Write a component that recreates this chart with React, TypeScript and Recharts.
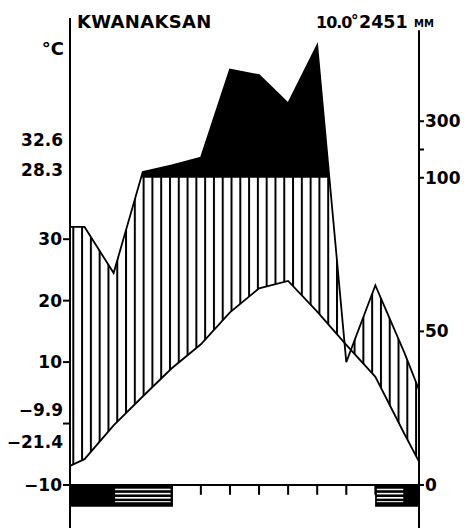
import { ComposedChart, Area, Line, XAxis, YAxis, ReferenceLine, ReferenceArea } from 'recharts'

// Walter–Lieth climate diagram, Kwanaksan
const months = ['Jan', 'Feb', 'Mar', 'Apr', 'May', 'Jun', 'Jul', 'Aug', 'Sep', 'Oct', 'Nov', 'Dec']
const tempC = [-5.8, -0.3, 4.4, 9.0, 12.9, 18.1, 22.0, 23.2, 18.2, 12.8, 7.6, -1.7]
const precipMm = [84, 69, 120, 144, 171, 483, 463, 363, 569, 40, 65, 43]
// values drawn at the left / right border of the diagram
const edgeTempC = [-6.9, -6.2]
const edgePrecipMm = [84, 31]

const tempTicks = [-10, 0, 10, 20, 30]
const precipTicks = [0, 50, 100, 200, 300]
const precipTickLabels = ['0', '50', '100', '', '300']

// frost band below the diagram (in months from Jan 1)
const frostBand = [[0, 3.54], [10.49, 12]]
const frostProbable = [[1.55, 3.46], [10.55, 11.46]]

const stationName = 'KWANAKSAN'
const meanTemp = '10.0'
const annualPrecip = '2451'
const sideStats = [
    { text: '32.6', y: 146 },
    { text: '28.3', y: 176 },
    { text: '−9.9', y: 416 },
    { text: '−21.4', y: 448 },
]

// 10 °C = 20 mm up to 100 mm, reduced scale above
const toScale = (mm: number) => (mm <= 100 ? mm / 2 - 10 : 40 + (mm - 100) * 0.046)

const rows = [
    { x: 0, t: edgeTempC[0], p: toScale(edgePrecipMm[0]) },
    ...months.map((m, i) => ({ x: i + 0.5, month: m, t: tempC[i], p: toScale(precipMm[i]) })),
    { x: 12, t: edgeTempC[1], p: toScale(edgePrecipMm[1]) },
]

const FONT = 'DejaVu Sans'
const tickStyle = { fill: '#000', fontSize: 17, fontFamily: FONT, fontWeight: 'bold' as const }

const fmtTemp = (v: number) => (v === 0 ? '' : v < 0 ? '−' + Math.abs(v) : String(v))

// half width of a month tick, in months (~1px)
const TICK_HALF = 0.035

export default function App() {
    return (
        <div style={{ position: 'absolute', left: 0, top: 0, width: 464, height: 529, background: '#fff' }}>
            <ComposedChart width={464} height={529} data={rows} margin={{ top: 18, right: 0, bottom: 1, left: 0 }}>
                <defs>
                    <pattern id="vhatch" patternUnits="userSpaceOnUse" x={72.3} y={0} width={8.79} height={10}>
                        <rect x={0} y={0} width={8.79} height={10} fill="#fff" />
                        <rect x={0} y={0} width={2} height={10} fill="#000" />
                    </pattern>
                    <pattern id="hhatch" patternUnits="userSpaceOnUse" x={0} y={488.6} width={10} height={4.2}>
                        <rect x={0} y={0} width={10} height={4.2} fill="#000" />
                        <rect x={0} y={0} width={10} height={1.6} fill="#fff" />
                    </pattern>
                </defs>
                <XAxis type="number" dataKey="x" domain={[0, 12]} hide />
                <YAxis
                    yAxisId="t"
                    type="number"
                    domain={[-17, 66]}
                    allowDataOverflow
                    ticks={tempTicks}
                    tickFormatter={fmtTemp}
                    width={70}
                    axisLine={false}
                    tickLine={{ stroke: '#000', strokeWidth: 2 }}
                    tickSize={7}
                    tickMargin={1}
                    tick={tickStyle}
                />
                <YAxis
                    yAxisId="p"
                    orientation="right"
                    type="number"
                    domain={[-17, 66]}
                    allowDataOverflow
                    ticks={precipTicks.map(toScale)}
                    tickFormatter={(_v: number, i: number) => precipTickLabels[i]}
                    width={45}
                    axisLine={false}
                    tickLine={{ stroke: '#000', strokeWidth: 2 }}
                    tickSize={5}
                    tickMargin={1}
                    tick={{ ...tickStyle, textAnchor: 'start' }}
                />

                {/* perhumid part (black), then humid hatching capped at 100 mm */}
                <Area yAxisId="t" type="linear" dataKey="p" baseValue={-10} fill="#000" fillOpacity={1} stroke="none" isAnimationActive={false} />
                <Area yAxisId="t" type="linear" dataKey={() => 40} baseValue={-10} fill="url(#vhatch)" fillOpacity={1} stroke="none" isAnimationActive={false} />
                <Area yAxisId="t" type="linear" dataKey="p" baseValue={66} fill="#fff" fillOpacity={1} stroke="none" isAnimationActive={false} />
                <Area yAxisId="t" type="linear" dataKey="t" baseValue={-10} fill="#fff" fillOpacity={1} stroke="none" isAnimationActive={false} />

                <Line yAxisId="t" type="linear" dataKey="p" stroke="#000" strokeWidth={1.8} dot={false} isAnimationActive={false} />
                <Line yAxisId="t" type="linear" dataKey="t" stroke="#000" strokeWidth={1.8} dot={false} isAnimationActive={false} />

                {/* month ticks, hidden under the frost band */}
                {months.map((m, i) => (
                    <ReferenceArea key={m} yAxisId="t" x1={i + 0.5 - TICK_HALF} x2={i + 0.5 + TICK_HALF} y1={-11.6} y2={-10} fill="#000" fillOpacity={1} stroke="none" />
                ))}
                {frostBand.map(([a, b], i) => (
                    <ReferenceArea key={'fb' + i} yAxisId="t" x1={a} x2={b} y1={-13.55} y2={-10} fill="#000" fillOpacity={1} stroke="none" />
                ))}
                {frostProbable.map(([a, b], i) => (
                    <ReferenceArea key={'fp' + i} yAxisId="t" x1={a} x2={b} y1={-12.8} y2={-10.55} fill="url(#hhatch)" fillOpacity={1} stroke="none" />
                ))}

                <ReferenceLine yAxisId="t" y={-10} stroke="#000" strokeWidth={2} />
                <ReferenceLine yAxisId="t" segment={[{ x: 0, y: -17 }, { x: 0, y: 66 }]} stroke="#000" strokeWidth={2} />
                <ReferenceLine yAxisId="t" segment={[{ x: 12, y: -17 }, { x: 12, y: 64 }]} stroke="#000" strokeWidth={2} />
            </ComposedChart>

            <svg width={464} height={529} style={{ position: 'absolute', left: 0, top: 0, pointerEvents: 'none' }}>
                <g fontFamily={FONT} fontWeight="bold" fill="#000">
                    <text x={77} y={28} fontSize={18} letterSpacing={0.3}>{stationName}</text>
                    <text x={316} y={28} fontSize={16} letterSpacing={-1}>{meanTemp}</text>
                    <text x={351} y={26} fontSize={15}>°</text>
                    <text x={359} y={28} fontSize={17.5}>{annualPrecip}</text>
                    <text x={414} y={27} fontSize={10}>MM</text>
                    <text x={64} y={55} fontSize={18} textAnchor="end">°C</text>
                    {sideStats.map((s) => (
                        <text key={s.text} x={63} y={s.y} fontSize={17} textAnchor="end">{s.text}</text>
                    ))}
                </g>
            </svg>
        </div>
    )
}
